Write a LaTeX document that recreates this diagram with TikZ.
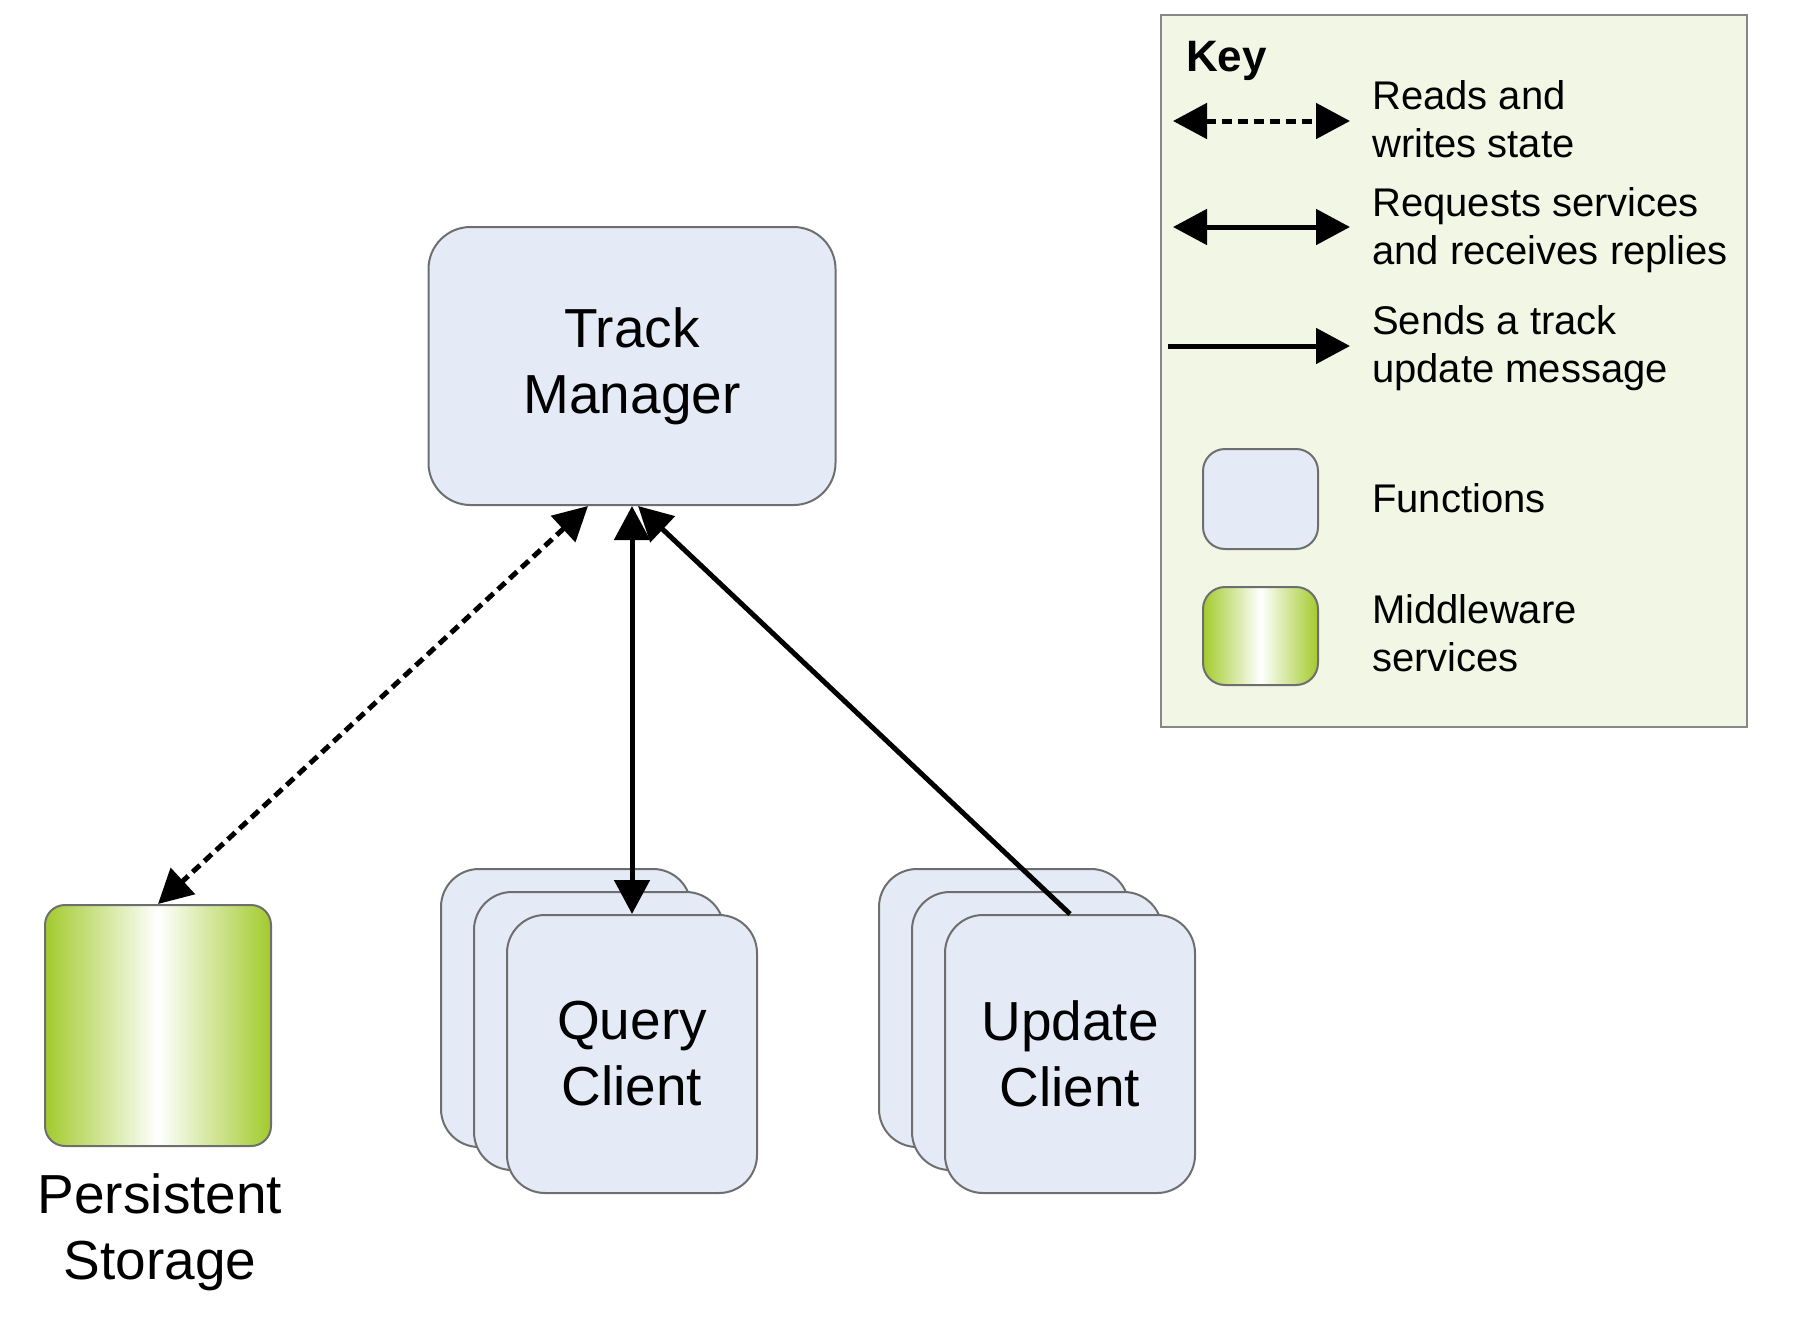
\documentclass[tikz,border=0pt]{standalone}
\usepackage{fontspec}
\setmainfont{Liberation Sans}
\usetikzlibrary{arrows.meta}
\definecolor{fnfill}{RGB}{228,235,246}
\definecolor{keyfill}{RGB}{242,246,229}
\definecolor{mwgreen}{RGB}{162,203,44}
\definecolor{boxline}{RGB}{110,110,110}
\definecolor{keyline}{RGB}{135,135,135}
\begin{document}
\begin{tikzpicture}[x=1pt,y=-1pt,
  bigfont/.style={font=\fontsize{55}{66}\selectfont},
  keyfont/.style={font=\fontsize{40}{48}\selectfont},
  fnbox/.style={draw=boxline,line width=2pt,fill=fnfill,rounded corners=38pt,
    align=center,inner sep=0pt,bigfont},
  clientbox/.style={fnbox,minimum width=250pt,minimum height=278pt},
  mwbox/.style={draw=boxline,line width=2pt,rounded corners=20pt,inner sep=0pt,
    left color=mwgreen,right color=mwgreen,middle color=white},
  conn/.style={line width=5pt,black},
  dashconn/.style={conn,dash pattern=on 10pt off 6pt},
  keylabel/.style={keyfont,align=left,inner sep=0pt,anchor=north west},
]
\useasboundingbox (0,0) rectangle (1794,1317);

% Key
\node[draw=keyline,line width=2.5pt,fill=keyfill,minimum width=586pt,minimum height=712pt,inner sep=0pt] (key) at (1454,371) {};
\node[font=\fontsize{44}{52}\selectfont\bfseries,inner sep=0pt,anchor=base west] (keytitle) at (1186,71) {Key};

\coordinate (k1a) at (1173,121); \coordinate (k1b) at (1350,121);
\coordinate (k2a) at (1173,227); \coordinate (k2b) at (1350,227);
\coordinate (k3a) at (1168,346); \coordinate (k3b) at (1350,346);
\draw[dashconn,{Triangle[length=34pt,width=35pt]}-{Triangle[length=34pt,width=35pt]}] (k1a) -- (k1b);
\draw[conn,{Triangle[length=34pt,width=35pt]}-{Triangle[length=34pt,width=35pt]}] (k2a) -- (k2b);
\draw[conn,-{Triangle[length=34pt,width=35pt]}] (k3a) -- (k3b);

\node[keylabel] (l1) at (1372,80) {Reads and\\writes state};
\node[keylabel] (l2) at (1372,187) {Requests services\\and receives replies};
\node[keylabel] (l3) at (1372,305) {Sends a track\\update message};

\node[draw=boxline,line width=2pt,fill=fnfill,rounded corners=22pt,minimum width=115pt,minimum height=100pt,inner sep=0pt] (kfn) at (1260.5,499) {};
\node[keyfont,inner sep=0pt,anchor=base west] (l4) at (1372,512) {Functions};
\node[mwbox,rounded corners=22pt,minimum width=115pt,minimum height=98pt] (kmw) at (1260.5,636) {};
\node[keylabel] (l5) at (1372,594) {Middleware\\services};

% Track Manager
\node[fnbox,rounded corners=42pt,minimum width=407pt,minimum height=278pt] (tm) at (632,366) {Track\\Manager};

% Persistent storage
\node[mwbox,minimum width=226pt,minimum height=241pt] (ps) at (158,1025.5) {};
\node[bigfont,align=center,inner sep=0pt,anchor=north] (pslabel) at (160,1173) {Persistent\\Storage};

% Query clients
\node[clientbox] (qc3) at (566,1008) {};
\node[clientbox] (qc2) at (599,1031) {};
\node[clientbox] (qc) at (632,1054) {Query\\Client};

% Update clients
\node[clientbox] (uc3) at (1004,1008) {};
\node[clientbox] (uc2) at (1037,1031) {};
\node[clientbox] (uc) at (1070,1054) {Update\\Client};

% Connectors
\draw[dashconn,{Triangle[length=34pt,width=35pt]}-{Triangle[length=34pt,width=35pt]}] ([xshift=-44pt]tm.south) -- (ps.north);
\draw[conn,{Triangle[length=34pt,width=35pt]}-{Triangle[length=34pt,width=35pt]}] (tm.south) -- (qc.north);
\draw[conn,-{Triangle[length=34pt,width=35pt]}] (uc.north) -- ([xshift=6pt]tm.south);
\end{tikzpicture}
\end{document}
